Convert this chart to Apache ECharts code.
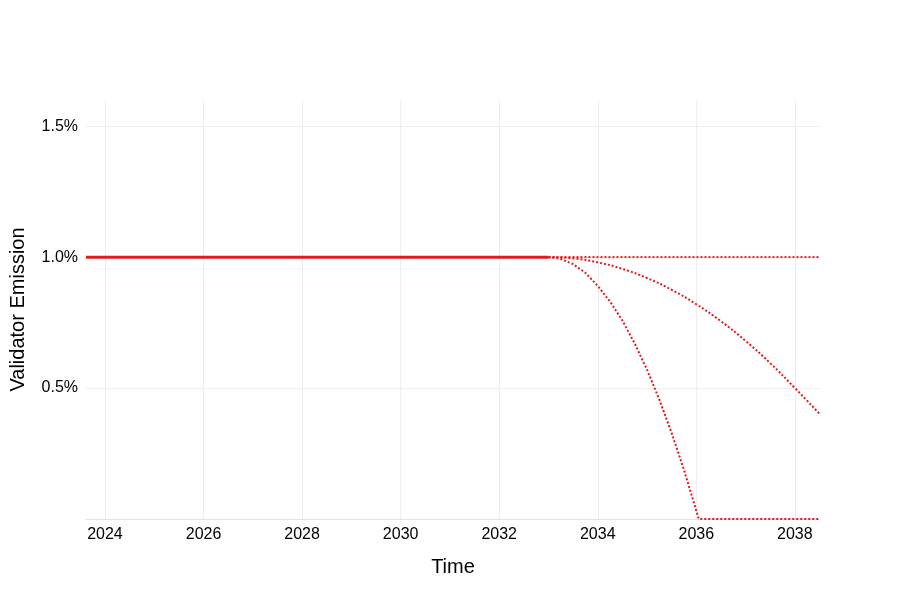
<!DOCTYPE html>
<html><head><meta charset="utf-8">
<script src="https://cdn.jsdelivr.net/npm/echarts@6/dist/echarts.min.js"></script>
<style>html,body{margin:0;padding:0;background:#fff}#c{width:900px;height:600px}</style>
</head><body><div id="c"></div>
<script>
const solidYears = [2023.615, 2033];
const solidValues = [1.0, 1.0];
const flatYears = [2033, 2038.51];
const flatValues = [1.0, 1.0];
const midYears = [2033, 2033.5, 2034, 2034.5, 2035, 2035.5, 2036, 2036.5, 2037, 2037.5, 2038, 2038.51];
const midValues = [1.0, 0.995, 0.98, 0.955, 0.92, 0.875, 0.82, 0.755, 0.68, 0.595, 0.5, 0.4];
const steepYears = [2033, 2033.25, 2033.5, 2033.75, 2034, 2034.25, 2034.5, 2034.75, 2035, 2035.25, 2035.5, 2035.75, 2036.05, 2038.51];
const steepValues = [1.0, 0.993, 0.973, 0.94, 0.89, 0.83, 0.758, 0.67, 0.57, 0.456, 0.328, 0.187, 0.0, 0.0];
const zip = (a, b) => a.map((x, i) => [x, b[i]]);
const red = '#e31a1c';
const chart = echarts.init(document.getElementById('c'));
chart.setOption({
  animation: false,
  textStyle: { fontFamily: 'Liberation Sans, Arial, sans-serif' },
  grid: { left: 85, right: 80, top: 100, bottom: 81, containLabel: false },
  xAxis: {
    type: 'value', min: 2023.615, max: 2038.51, splitNumber: 7,
    name: 'Time', nameLocation: 'middle', nameGap: 38,
    nameTextStyle: { fontSize: 20, color: '#000' },
    axisLine: { show: true, lineStyle: { color: '#e0e0ee' } },
    axisTick: { show: false },
    axisLabel: { fontSize: 16, color: '#000', margin: 8, showMinLabel: false, showMaxLabel: false, formatter: v => String(Math.round(v)) },
    splitLine: { show: true, showMinLine: false, showMaxLine: false, lineStyle: { color: '#eeeeee' } }
  },
  yAxis: {
    type: 'value', min: 0, max: 1.6, interval: 0.5,
    name: 'Validator Emission', nameLocation: 'middle', nameGap: 58,
    nameTextStyle: { fontSize: 20, color: '#000' },
    axisLine: { show: false }, axisTick: { show: false },
    axisLabel: { fontSize: 16, color: '#000', showMinLabel: false, showMaxLabel: false, formatter: v => v.toFixed(1) + '%' },
    splitLine: { show: true, showMinLine: false, showMaxLine: false, lineStyle: { color: '#eeeeee' } }
  },
  series: [
    { type: 'line', data: zip(solidYears, solidValues), showSymbol: false, lineStyle: { color: red, width: 3 } },
    { type: 'line', data: zip(flatYears, flatValues), showSymbol: false, lineStyle: { color: red, width: 2, type: 'dotted' } },
    { type: 'line', data: zip(midYears, midValues), smooth: true, showSymbol: false, lineStyle: { color: red, width: 2, type: 'dotted' } },
    { type: 'line', data: zip(steepYears, steepValues), showSymbol: false, lineStyle: { color: red, width: 2, type: 'dotted' } }
  ]
});
</script></body></html>
